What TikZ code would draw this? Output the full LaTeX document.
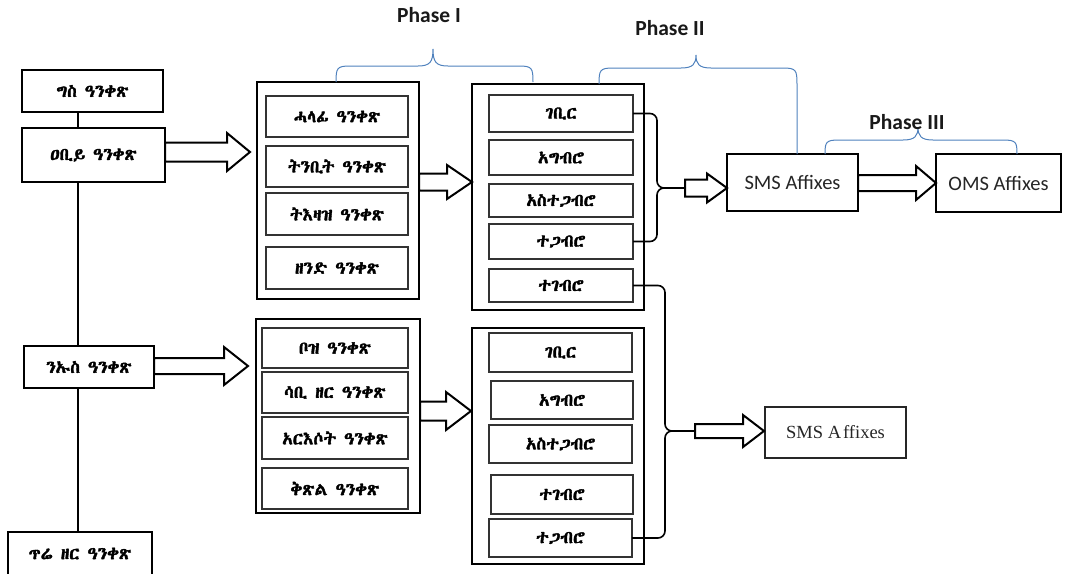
\documentclass[tikz,border=0pt]{standalone}
\usepackage{fontspec}
\setmainfont{Carlito}
\IfFontExistsTF{Abyssinica SIL}{\newfontfamily\eth[AutoFakeBold=2]{Abyssinica SIL}}{%
  \IfFontExistsTF{FreeSerif}{\newfontfamily\eth[AutoFakeBold=2]{FreeSerif}}{\newfontfamily\eth{DejaVu Sans}}}
\newfontfamily\tms{Liberation Serif}
\usetikzlibrary{calc}
\definecolor{braceblue}{RGB}{79,129,189}
\newcommand\mybox[7]{\node[#1,anchor=north west,minimum width={(#4-#2)*1pt},minimum height={(#5-#3)*1pt}] (#6) at (#2,#3) {#7};}
\newcommand\barrow[6]{\draw[blk] (#1,#3-#4) -- (#2-#6,#3-#4) -- (#2-#6,#3-#5) -- (#2,#3) -- (#2-#6,#3+#5) -- (#2-#6,#3+#4) -- (#1,#3+#4) -- cycle;}
\begin{document}
\begin{tikzpicture}[x=1pt,y=-1pt,
  every node/.style={inner sep=0pt,outer sep=0pt},
  leftbox/.style={draw=black,line width=2pt,fill=white,font=\eth\bfseries\fontsize{17.5}{19}\selectfont},
  outerbox/.style={draw=black,line width=2pt,fill=white},
  innerbox/.style={draw=black!80,line width=1.3pt,fill=white,font=\eth\bfseries\fontsize{17.5}{19}\selectfont},
  affbox/.style={draw=black,line width=1.6pt,fill=white,font=\fontsize{20.5}{22}\selectfont,text=black!85},
  affbox2/.style={draw=black!85,line width=1.3pt,fill=white,font=\tms\fontsize{18.5}{21}\selectfont,text=black!85},
  blk/.style={draw=black,line width=2pt,fill=white,line join=miter},
  conn/.style={draw=black,line width=1.6pt,rounded corners=7pt},
  vline/.style={draw=black,line width=2pt},
  brace/.style={draw=braceblue,line width=1pt},
  phase/.style={font=\bfseries\fontsize{21.5}{23}\selectfont,text=black!90}]
\useasboundingbox (0,0) rectangle (1071,573);

% left column
\mybox{leftbox}{22}{70}{163}{112}{g1}{ግስ ዓንቀጽ}
\mybox{leftbox}{22}{128}{165}{182}{g2}{ዐቢይ ዓንቀጽ}
\mybox{leftbox}{24}{346}{154}{388}{g3}{ንኡስ ዓንቀጽ}
\mybox{leftbox}{8}{532}{152}{575}{g4}{ጥሬ ዘር ዓንቀጽ}
\coordinate (vx) at (78,0);
\draw[vline] (g1.south -| vx) -- (g2.north -| vx);
\draw[vline] (g2.south -| vx) -- (g3.north -| vx);
\draw[vline] (g3.south -| vx) -- (g4.north -| vx);

% phase I boxes
\mybox{outerbox}{257}{82}{419}{299}{p1a}{}
\mybox{outerbox}{256}{319}{420}{513}{p1b}{}
\mybox{innerbox}{266}{96}{408}{137}{a1}{ሓላፊ ዓንቀጽ}
\mybox{innerbox}{266}{146}{408}{187}{a2}{ትንቢት ዓንቀጽ}
\mybox{innerbox}{266}{193}{408}{235}{a3}{ትእዛዝ ዓንቀጽ}
\mybox{innerbox}{266}{247}{408}{289}{a4}{ዘንድ ዓንቀጽ}
\mybox{innerbox}{262}{328}{408}{368}{b1}{ቦዝ ዓንቀጽ}
\mybox{innerbox}{262}{372}{408}{413}{b2}{ሳቢ ዘር ዓንቀጽ}
\mybox{innerbox}{262}{417}{408}{459}{b3}{አርእሶት ዓንቀጽ}
\mybox{innerbox}{262}{468}{408}{509}{b4}{ቅጽል ዓንቀጽ}

% phase II boxes
\mybox{outerbox}{472}{84}{644}{310}{p2a}{}
\mybox{outerbox}{472}{328}{644}{564}{p2b}{}
\mybox{innerbox}{489}{95}{633}{132}{c1}{ገቢር}
\mybox{innerbox}{489}{140}{633}{175}{c2}{አግብሮ}
\mybox{innerbox}{489}{184}{633}{217}{c3}{አስተጋብሮ}
\mybox{innerbox}{489}{224}{633}{259}{c4}{ተጋብሮ}
\mybox{innerbox}{489}{269}{633}{302}{c5}{ተገብሮ}
\mybox{innerbox}{489}{333}{632}{372}{d1}{ገቢር}
\mybox{innerbox}{491}{381}{633}{419}{d2}{አግብሮ}
\mybox{innerbox}{489}{425}{632}{463}{d3}{አስተጋብሮ}
\mybox{innerbox}{491}{475}{633}{514}{d4}{ተገብሮ}
\mybox{innerbox}{489}{519}{632}{557}{d5}{ተጋብሮ}

% affix boxes
\mybox{affbox}{727}{154}{858}{211}{s1}{SMS Affixes}
\mybox{affbox}{936}{154}{1061}{212}{o1}{OMS Affixes}
\mybox{affbox2}{765}{407}{906}{458}{s2}{SMS A\kern2pt ffixes}

% block arrows
\barrow{165}{250}{152}{9.5}{19}{23}
\barrow{154}{248}{366}{8}{19}{24}
\barrow{419}{472}{182}{8.5}{17}{25}
\barrow{420}{471}{411}{9.5}{19}{25}
\barrow{685}{727}{188}{8.5}{14.5}{20}
\barrow{858}{936}{183}{8}{17}{20}
\barrow{695}{764}{431}{7}{16}{21}

% bracket connectors
\coordinate (jx) at (657,188);
\coordinate (a5in) at (685,188);
\draw[conn] (c1.east) -- (c1.east -| jx) -- (jx) -- (a5in);
\draw[conn] (c4.east) -- (c4.east -| jx) -- (jx) -- (a5in);
\coordinate (jy) at (665,431);
\coordinate (a7in) at (695,431);
\draw[conn] (c5.east) -- (c5.east -| jy) -- (jy) -- (a7in);
\draw[conn] (d5.east) -- (d5.east -| jy) -- (jy) -- (a7in);

% braces
\draw[brace] (336,82) .. controls (336,68) and (337,66) .. (350,66) -- (418,66) .. controls (430,66) and (433,62) .. (433,49)
             .. controls (433,62) and (436,66) .. (448,66) -- (519,66) .. controls (532,66) and (533,68) .. (533,82);
\draw[brace] (599,84) .. controls (599,70) and (600,68) .. (613,68) -- (681,68) .. controls (693,68) and (696,64) .. (696,55)
             .. controls (696,64) and (699,68) .. (711,68) -- (783,68) .. controls (796,68) and (797,70) .. (797,84) -- (s1.north -| 797,0);
\draw[brace] (s1.north -| 825,0) .. controls (825,142) and (826,140) .. (839,140) -- (903,140) .. controls (915,140) and (918,136) .. (918,127)
             .. controls (918,136) and (921,140) .. (933,140) -- (1003,140) .. controls (1016,140) and (1017,142) .. (1017,154);

% phase labels
\node[phase] (ph1) at (429,15) {Phase I};
\node[phase] (ph2) at (670,28) {Phase II};
\node[phase] (ph3) at (907,122) {Phase III};
\end{tikzpicture}
\end{document}
